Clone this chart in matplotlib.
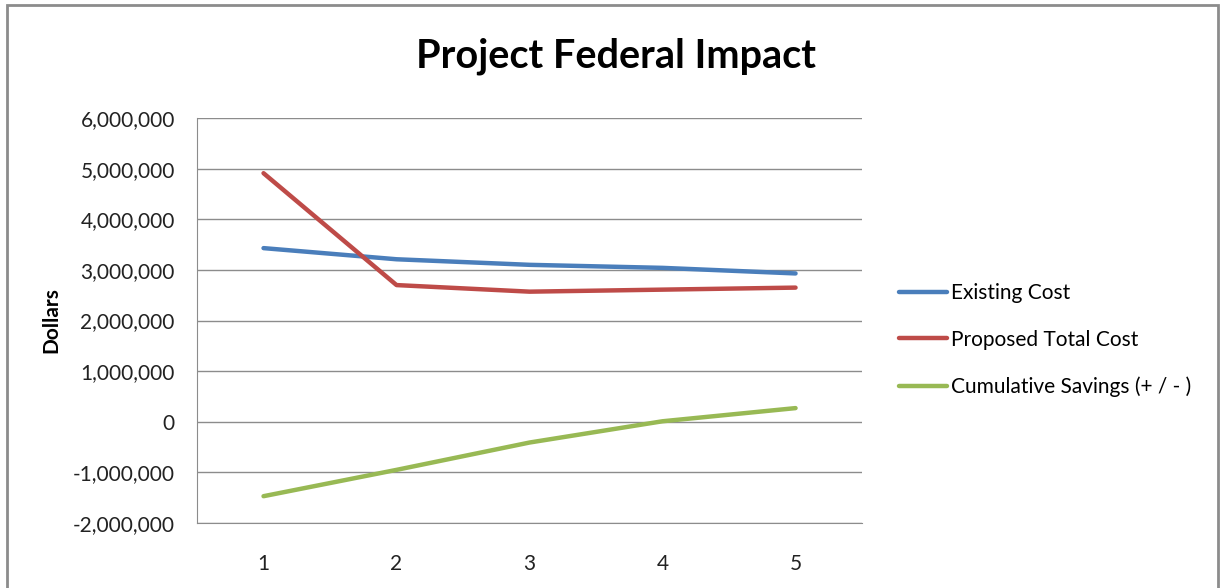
import matplotlib.pyplot as plt
from matplotlib.patches import Rectangle
from matplotlib.ticker import FuncFormatter

years = [1, 2, 3, 4, 5]
existing_cost = [3430000, 3210000, 3100000, 3040000, 2930000]
proposed_cost = [4910000, 2700000, 2570000, 2610000, 2650000]
cum_savings = [-1470000, -950000, -410000, 10000, 270000]

plt.rcParams['font.family'] = ['Lato', 'DejaVu Sans']

fig = plt.figure(figsize=(12.2, 5.88), dpi=100)
ax = fig.add_axes([0.1615, 0.1105, 0.5451, 0.6888])

ax.plot(years, existing_cost, color='#4A7EBB', lw=3.2, label='Existing Cost', solid_capstyle='round')
ax.plot(years, proposed_cost, color='#BE4B48', lw=3.2, label='Proposed Total Cost', solid_capstyle='round')
ax.plot(years, cum_savings, color='#98B954', lw=3.2, label='Cumulative Savings (+ / - )', solid_capstyle='round')

ax.set_xlim(0.5, 5.5)
ax.set_ylim(-2000000, 6000000)
ax.set_xticks(years)
ax.set_yticks(range(-2000000, 6000001, 1000000))
ax.yaxis.set_major_formatter(FuncFormatter(lambda v, p: f'{int(v):,}'))
ax.grid(axis='y', color='#8c8c8c', lw=1)
ax.set_axisbelow(True)
ax.tick_params(length=0, labelsize=15, colors='#222222')
ax.tick_params(axis='x', pad=22)
ax.tick_params(axis='y', pad=16)
for s in ['top', 'right']:
    ax.spines[s].set_visible(False)
for s in ['left', 'bottom']:
    ax.spines[s].set_color('#8c8c8c')

ax.set_ylabel('Dollars', fontsize=15, fontweight='bold', labelpad=8)
fig.text(0.505, 0.905, 'Project Federal Impact', ha='center', va='center',
         fontsize=28.5, fontweight='bold')

fig.legend(loc='center left', bbox_to_anchor=(0.7215, 0.422), frameon=False,
           fontsize=15, handlelength=2.3, handletextpad=0.2, labelspacing=1.28)

fig.patches.append(Rectangle((0.006, -0.05), 0.992, 1.041, transform=fig.transFigure,
                             fill=False, edgecolor='#8c8c8c', lw=2))

fig.savefig('out.png')
